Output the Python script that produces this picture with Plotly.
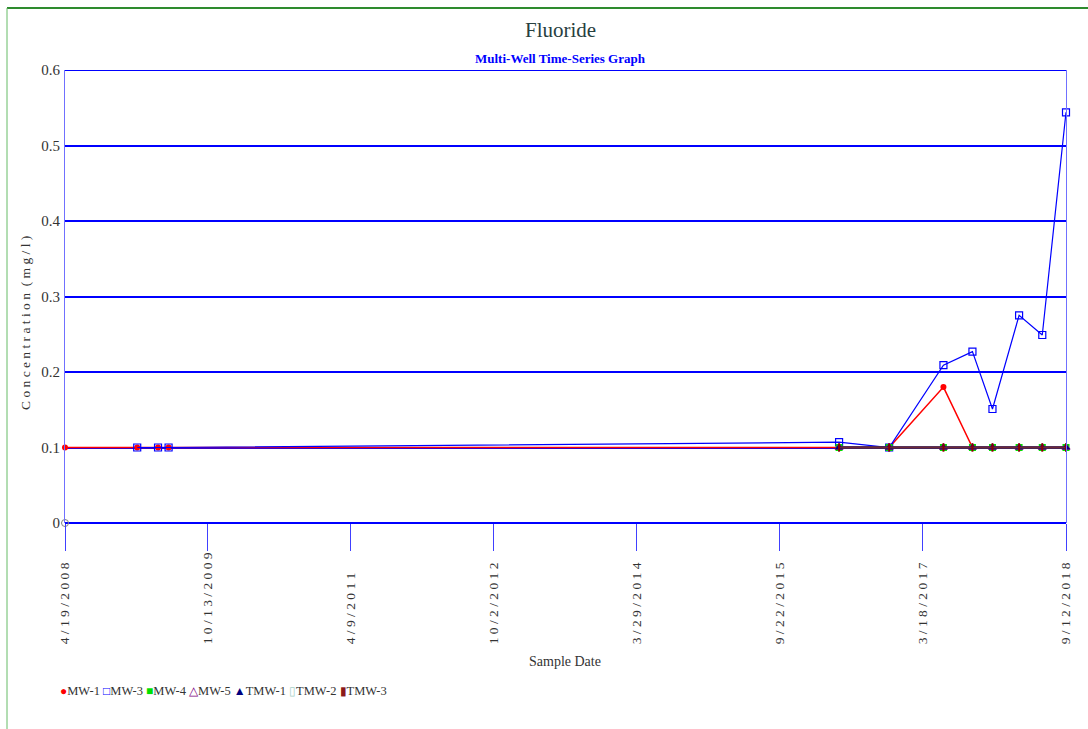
import plotly.graph_objects as go

# ---------------- data ----------------
dates = ["2008-04-19", "2009-01-18", "2009-04-07", "2009-05-17",
         "2016-05-04", "2016-11-10", "2017-06-04", "2017-09-22",
         "2017-12-07", "2018-03-18", "2018-06-14", "2018-09-12"]

mw1_dates = dates
mw1_vals = [0.1, 0.1, 0.1, 0.1, 0.1, 0.1, 0.18, 0.1, 0.1, 0.1, 0.1, 0.1]

mw3_dates = dates[1:]
mw3_vals = [0.1, 0.1, 0.1, 0.107, 0.1, 0.209, 0.227, 0.151, 0.275, 0.249, 0.544]

late_dates = dates[4:]
mw4_vals = [0.1] * 8
mw5_vals = [0.1] * 8
tmw1_vals = [0.1] * 8
tmw3_vals = [0.1] * 8

tmw2_dates = ["2008-04-19"]
tmw2_vals = [0.0]

tick_dates = ["2008-04-19", "2009-10-13", "2011-04-09", "2012-10-02",
              "2014-03-29", "2015-09-22", "2017-03-18", "2018-09-12"]
tick_labels = ["4/19/2008", "10/13/2009", "4/9/2011", "10/2/2012",
               "3/29/2014", "9/22/2015", "3/18/2017", "9/12/2018"]
y_ticks = [0, 0.1, 0.2, 0.3, 0.4, 0.5, 0.6]

SERIF = "Liberation Serif, Times New Roman, serif"


def spaced(s):
    return " ".join(list(s))


def char_w(c):
    if c.isdigit():
        return 0.5
    if c == "/":
        return 0.278
    return 0.25


def label_w(s):
    return sum(char_w(c) for c in spaced(s))


maxw = max(label_w(s) for s in tick_labels)
tick_text = []
for s in tick_labels:
    pad = int(round((maxw - label_w(s)) / 0.25))
    tick_text.append(spaced(s) + "\u00a0" * pad)

# name, x, y, line colour, line width, marker, legend glyph, glyph colour
series = [
    ("MW-1", mw1_dates, mw1_vals, "#ff0000", 1.5,
     dict(symbol="circle", size=6, color="#ff0000"), "●", "#ff0000"),
    ("MW-3", mw3_dates, mw3_vals, "#0000ff", 1.2,
     dict(symbol="square-open", size=7, color="#0000ff", line=dict(width=1.2)), "□", "#0000ff"),
    ("MW-4", late_dates, mw4_vals, "#00e000", 2,
     dict(symbol="square", size=7, color="#00e000"), "■", "#00e000"),
    ("MW-5", late_dates, mw5_vals, "#800080", 2,
     dict(symbol="triangle-up-open", size=7, color="#800080", line=dict(width=1.2)), "△", "#800080"),
    ("TMW-1", late_dates, tmw1_vals, "#000080", 2,
     dict(symbol="triangle-up", size=7, color="#000080"), "▲", "#000080"),
    ("TMW-2", tmw2_dates, tmw2_vals, "#b8d8d0", 1,
     dict(symbol="circle-open", size=7, color="#808080", line=dict(width=1)), "▯", "#a8d0c8"),
    ("TMW-3", late_dates, tmw3_vals, "#6e2a36", 2,
     dict(symbol="line-ns", size=6, color="#8b0000", line=dict(width=2, color="#8b0000")), "▮", "#8b1a1a"),
]

fig = go.Figure()
for name, xs, ys, lc, lw, mk, g, gc in series:
    fig.add_trace(go.Scatter(
        x=xs, y=ys, mode="lines+markers", name=name,
        line=dict(color=lc, width=lw),
        marker=mk, showlegend=False, cliponaxis=False))

L, R, T, B = 65, 22, 70, 206
W, H = 1088, 729
pw, ph = W - L - R, H - T - B


def px_x(x):
    return (x - L) / pw


def px_y(y):
    return (H - B - y) / ph


fig.update_layout(
    width=W, height=H,
    margin=dict(l=L, r=R, t=T, b=B, pad=0),
    paper_bgcolor="white", plot_bgcolor="white",
    font=dict(family=SERIF, color="#333333"),
    showlegend=False,
    xaxis=dict(
        type="date",
        range=["2008-04-19", "2018-09-12"],
        tickmode="array", tickvals=tick_dates, ticktext=tick_text,
        tickangle=-90, ticks="outside", ticklen=27, tickcolor="#4040ff", tickwidth=1,
        tickfont=dict(family=SERIF, size=13.5, color="#333333"),
        ticklabelstandoff=-4,
        showgrid=False, zeroline=False, showline=False,
    ),
    yaxis=dict(
        range=[0, 0.6],
        tickmode="array", tickvals=y_ticks, ticktext=[str(v) for v in y_ticks],
        tickfont=dict(family=SERIF, size=15, color="#333333"),
        showgrid=True, gridcolor="#0000ff", gridwidth=2,
        zeroline=True, zerolinecolor="#0000ff", zerolinewidth=2,
        showline=True, linecolor="#7070ff", linewidth=1, mirror=True,
        ticks="", ticklabelstandoff=1,
    ),
)

# top gridline (0.6) and page border
fig.add_shape(type="line", xref="paper", yref="y", x0=0, x1=1, y0=0.6, y1=0.6,
              line=dict(color="#0000ff", width=2))
fig.add_shape(type="line", xref="paper", yref="paper", x0=px_x(7), x1=px_x(1088),
              y0=px_y(8), y1=px_y(8), line=dict(color="#2e8b2e", width=2))
fig.add_shape(type="line", xref="paper", yref="paper", x0=px_x(7), x1=px_x(7),
              y0=px_y(8), y1=px_y(729), line=dict(color="#66bb66", width=1))

fig.add_annotation(text="Fluoride", xref="paper", yref="paper",
                   x=px_x(560), y=px_y(30), showarrow=False,
                   font=dict(family="Liberation Serif", size=21, color="#274040"),
                   xanchor="center", yanchor="middle")
fig.add_annotation(text="<b>Multi-Well Time-Series Graph</b>", xref="paper", yref="paper",
                   x=px_x(560), y=px_y(58), showarrow=False,
                   font=dict(family=SERIF, size=13, color="#0000ff"),
                   xanchor="center", yanchor="middle")
fig.add_annotation(text=spaced("Concentration") + "\u00a0\u00a0" + spaced("(mg/l)"),
                   xref="paper", yref="paper", x=px_x(25), y=px_y(323),
                   textangle=-90, showarrow=False,
                   font=dict(family=SERIF, size=13.5, color="#333333"),
                   xanchor="center", yanchor="middle")
fig.add_annotation(text="Sample Date", xref="paper", yref="paper",
                   x=px_x(565), y=px_y(661), showarrow=False,
                   font=dict(family=SERIF, size=14, color="#333333"),
                   xanchor="center", yanchor="middle")

# legend line (marker glyph + series name)
legend_parts = []
for name, xs, ys, lc, lw, mk, g, gc in series:
    legend_parts.append(
        "<span style='color:%s;font-size:12px'>%s</span>%s" % (gc, g, name))
fig.add_annotation(text="\u00a0".join(legend_parts), xref="paper", yref="paper",
                   x=px_x(58), y=px_y(691), showarrow=False,
                   font=dict(family=SERIF, size=12.5, color="#333333"),
                   xanchor="left", yanchor="middle", align="left")

fig.write_html("out.html", config={"displayModeBar": False},
               post_script="document.body.style.margin='0';")
